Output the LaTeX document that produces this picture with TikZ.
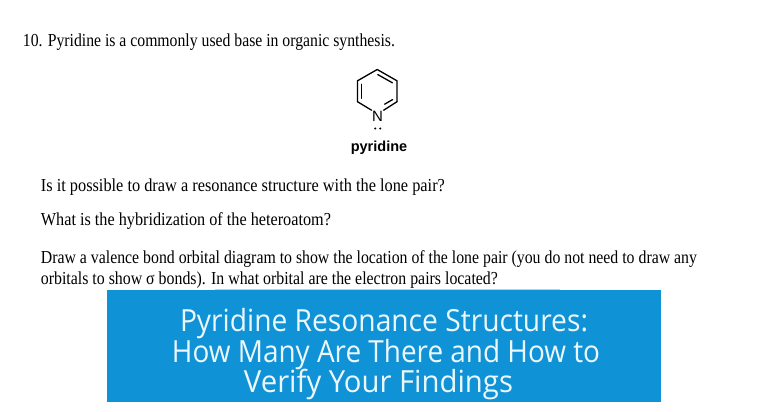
\documentclass[tikz,border=0pt]{standalone}
\usepackage{fontspec}
\usepackage{graphicx}
\setmainfont{Liberation Serif}
\newfontfamily\hsans{Liberation Sans}
\newfontfamily\osans{Open Sans}
\definecolor{bannerblue}{RGB}{16,146,214}
\definecolor{bannertext}{RGB}{236,247,252}
\definecolor{topline}{RGB}{150,225,245}
\tikzset{
  qtext/.style={inner sep=0pt, anchor=base west, font=\fontsize{18.3}{20}\selectfont},
  btext/.style={inner sep=0pt, anchor=base, text=bannertext, font=\osans\fontsize{30.5}{33}\selectfont},
  bond/.style={line width=1.3pt, line cap=round},
}
\begin{document}
\begin{tikzpicture}[x=1pt,y=-1pt]
\useasboundingbox[fill=white] (0,0) rectangle (768,412);
% question text
\node[qtext] (t0) at (22.7,46.5) {\resizebox{372pt}{\height}{10. Pyridine is a commonly used base in organic synthesis.}};
\node[qtext] (t1) at (40.7,191) {\resizebox{404pt}{\height}{Is it possible to draw a resonance structure with the lone pair?}};
\node[qtext] (t2) at (40.7,225.5) {\resizebox{290pt}{\height}{What is the hybridization of the heteroatom?}};
\node[qtext] (t3) at (40.7,263.5) {\resizebox{656pt}{\height}{Draw a valence bond orbital diagram to show the location of the lone pair (you do not need to draw any}};
\node[qtext] (t4) at (40.7,284.5) {\resizebox{457pt}{\height}{orbitals to show σ bonds). In what orbital are the electron pairs located?}};
% pyridine
\coordinate (T) at (377.2,69.5);
\coordinate (UL) at (357.5,80.8);
\coordinate (LL) at (357.5,101.7);
\coordinate (LR) at (397,101.7);
\coordinate (UR) at (397,80.8);
\node[inner sep=0.4pt, font=\hsans\fontsize{15}{15}\selectfont] (N) at (377.6,116) {N};
\draw[bond] (LL) -- (UL) -- (T) -- (UR) -- (LR);
\draw[bond] (LL) -- (N.north west);
\draw[bond] (LR) -- (N.north east);
\coordinate (d1a) at (361.6,84.2);
\coordinate (d1b) at (361.6,98.3);
\coordinate (d2a) at (377.8,74.6);
\coordinate (d2b) at (392.4,82.8);
\coordinate (d3a) at (392.6,99.6);
\coordinate (d3b) at (384.6,104.2);
\draw[bond] (d1a) -- (d1b);
\draw[bond] (d2a) -- (d2b);
\draw[bond] (d3a) -- (d3b);
\fill (375.2,128.5) circle (1.15) (380.2,128.5) circle (1.15);
\node[inner sep=0pt, anchor=base, font=\hsans\bfseries\fontsize{14.5}{15}\selectfont] (lbl) at (379,151.5) {pyridine};
% banner
\fill[bannerblue] (106.7,290) rectangle (661,401.5);
\draw[topline, line width=0.8pt] (215,289.6) -- (560,289.6);
\node[btext] (b1) at (384,331.5) {\resizebox{408pt}{\height}{Pyridine Resonance Structures:}};
\node[btext] (b2) at (386,362.5) {\resizebox{428pt}{\height}{How Many Are There and How to}};
\node[btext] (b3) at (378.5,392) {\resizebox{269pt}{\height}{Verify Your Findings}};
\end{tikzpicture}
\end{document}
